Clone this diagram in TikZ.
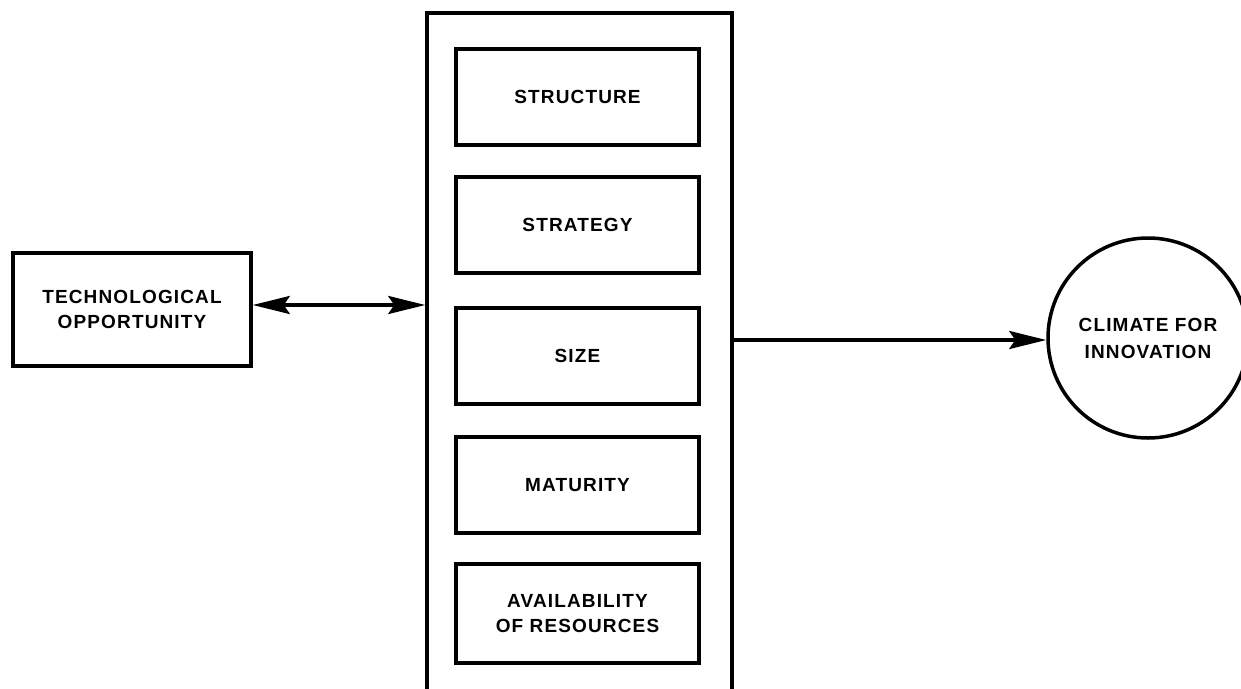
\documentclass[tikz,border=0pt]{standalone}
\usepackage{fontspec}
\newfontfamily\lblfont{Liberation Sans}[LetterSpace=6]
\usetikzlibrary{arrows.meta,calc}
\begin{document}
\begin{tikzpicture}[x=1pt,y=-1pt,
  every node/.style={font=\lblfont\bfseries\fontsize{19}{25}\selectfont, align=center, inner sep=0pt},
  box/.style={draw, line width=3.5pt, rectangle, minimum width=243pt, minimum height=96pt},
  conn/.style={line width=3.5pt, -{Stealth[length=37pt,width=18pt,inset=6pt]}},
  dconn/.style={line width=3.5pt, {Stealth[length=37pt,width=18pt,inset=6pt]}-{Stealth[length=37pt,width=18pt,inset=6pt]}}]
\useasboundingbox[fill=white] (0,0) rectangle (1241,688);
% outer column (open at the bottom)
\node[draw, line width=3.5pt, minimum width=305pt, minimum height=707pt] (col) at (579.5,366.5) {};
\node[box] (structure) at (577.5,97) {STRUCTURE};
\node[box] (strategy) at (577.5,225) {STRATEGY};
\node[box] (size) at (577.5,356) {SIZE};
\node[box] (maturity) at (577.5,485) {MATURITY};
\node[box, minimum height=99pt] (avail) at (577.5,613.5) {AVAILABILITY\\OF RESOURCES};
\node[draw, line width=3.5pt, minimum width=238pt, minimum height=113pt] (tech) at (132,309.5) {TECHNOLOGICAL\\OPPORTUNITY};
\node[draw, circle, line width=3.5pt, minimum size=200pt, font=\lblfont\bfseries\fontsize{19}{27}\selectfont] (clim) at (1148,338) {CLIMATE FOR\\INNOVATION};
\coordinate (a1) at (0,305);
\coordinate (a2) at (0,340);
\draw[dconn] (tech.east |- a1) -- (col.west |- a1);
\draw[conn] (col.east |- a2) -- (clim.west |- a2);
\end{tikzpicture}
\end{document}
